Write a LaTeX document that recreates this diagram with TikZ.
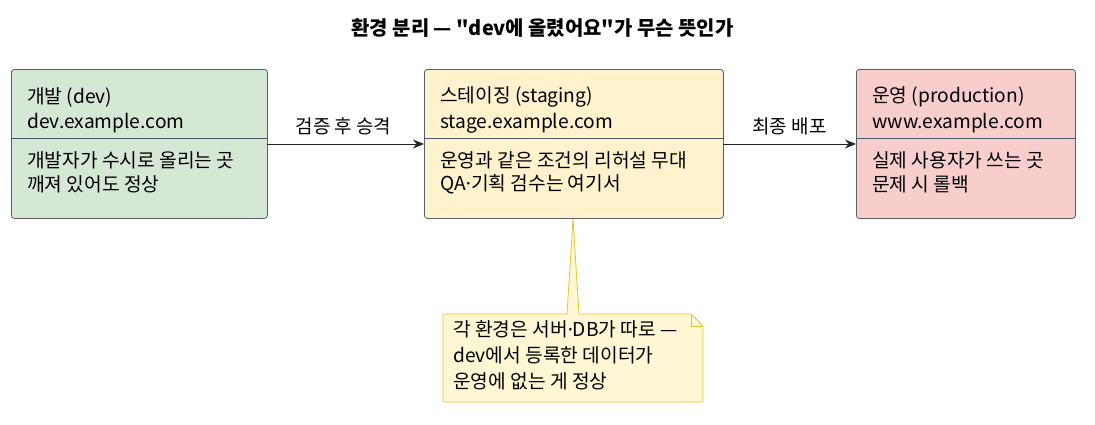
\documentclass[tikz,border=0pt]{standalone}
\usepackage{fontspec}
\newfontfamily\kr{Noto Sans CJK KR}
\newfontfamily\latinfont{Noto Sans}
\newcommand{\mydot}{{\latinfont ·}}
\usetikzlibrary{arrows.meta}
\definecolor{devfill}{HTML}{D5E8D4}
\definecolor{stgfill}{HTML}{FFF2CC}
\definecolor{prdfill}{HTML}{F8CECC}
\definecolor{boxline}{HTML}{5E5E5E}
\definecolor{divline}{HTML}{4A5868}
\definecolor{notefill}{HTML}{FFF7D4}
\definecolor{noteline}{HTML}{E2C62A}
\begin{document}
\begin{tikzpicture}[x=1pt,y=-1pt,
  envbox/.style={draw=boxline, line width=0.8pt, rounded corners=3pt, anchor=north west, inner sep=0pt},
  txt/.style={anchor=west, inner sep=0pt, font=\kr\fontsize{19.2}{22}\selectfont},
  lbl/.style={inner sep=0pt, font=\kr\fontsize{19}{22}\selectfont},
  divider/.style={draw=divline, line width=0.9pt},
  arr/.style={draw=black!85, line width=1pt, -{Stealth[length=11pt,width=9pt,inset=3.5pt]}}
]
\useasboundingbox (0,0) rectangle (1095,424);
\node[inner sep=0pt, font=\kr\fontsize{19.9}{24}\selectfont\bfseries] (title) at (542.5,28) {환경 분리 — "dev에 올렸어요"가 무슨 뜻인가};

% dev
\node[envbox, fill=devfill, minimum width=256pt, minimum height=149pt] (dev) at (11,69) {};
\draw[divider] (11,138) -- (267,138);
\node[txt] (dev1) at (27,97) {개발 (dev)};
\node[txt] (dev2) at (27,123) {dev.example.com};
\node[txt] (dev3) at (27,160) {개발자가 수시로 올리는 곳};
\node[txt] (dev4) at (27,184) {깨져 있어도 정상};

% staging
\node[envbox, fill=stgfill, minimum width=299pt, minimum height=149pt] (stg) at (424,69) {};
\draw[divider] (424,138) -- (723,138);
\node[txt] (stg1) at (440,97) {스테이징 (staging)};
\node[txt] (stg2) at (440,123) {stage.example.com};
\node[txt] (stg3) at (440,160) {운영과 같은 조건의 리허설 무대};
\node[txt] (stg4) at (440,184) {QA\mydot 기획 검수는 여기서};

% production
\node[envbox, fill=prdfill, minimum width=219pt, minimum height=149pt] (prd) at (856,69) {};
\draw[divider] (856,138) -- (1075,138);
\node[txt] (prd1) at (872,97) {운영 (production)};
\node[txt] (prd2) at (872,123) {www.example.com};
\node[txt] (prd3) at (872,160) {실제 사용자가 쓰는 곳};
\node[txt] (prd4) at (872,184) {문제 시 롤백};

% connectors
\coordinate (devE) at (267,144);
\coordinate (stgW) at (424,144);
\coordinate (stgE) at (723,144);
\coordinate (prdW) at (856,144);
\draw[arr] (devE) -- (stgW);
\draw[arr] (stgE) -- (prdW);
\node[lbl] (l1) at (343.5,126) {검증 후 승격};
\node[lbl] (l2) at (789.5,126) {최종 배포};

% note
\coordinate (apex) at (573,219);
\filldraw[fill=notefill, draw=noteline, line width=0.8pt]
  (443,314) -- (567,314) -- (apex) -- (579,314) -- (691,314) -- (703,326) -- (703,402) -- (443,402) -- cycle;
\draw[draw=noteline, line width=0.8pt] (691,314) -- (691,326) -- (703,326);
\node[inner sep=0pt, minimum width=260pt, minimum height=88pt, anchor=north west] (note) at (443,314) {};
\node[txt] (n1) at (453,329) {각 환경은 서버\mydot DB가 따로 —};
\node[txt] (n2) at (453,355) {dev에서 등록한 데이터가};
\node[txt] (n3) at (453,381) {운영에 없는 게 정상};
\end{tikzpicture}
\end{document}
